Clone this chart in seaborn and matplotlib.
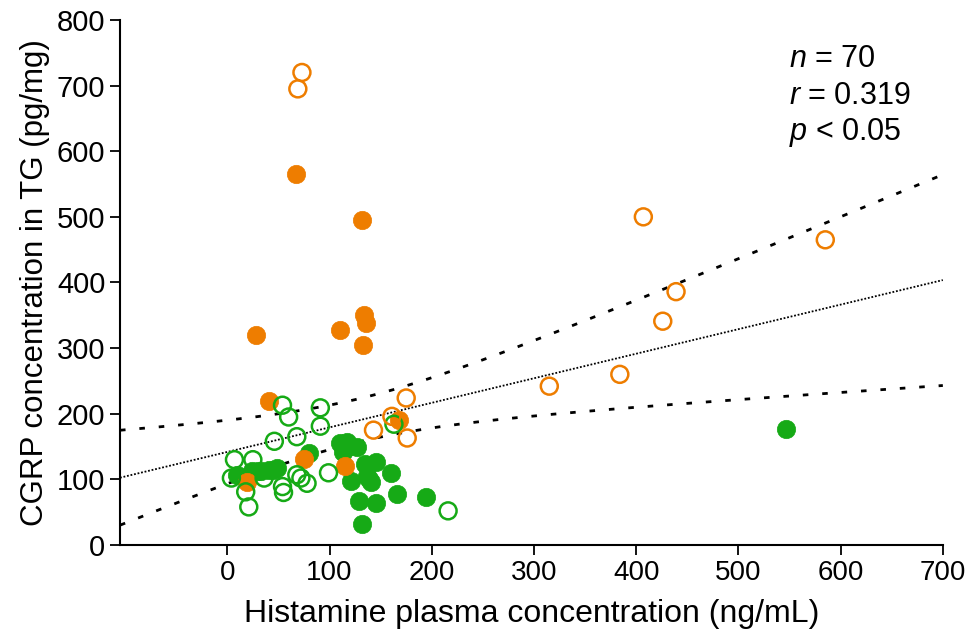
import matplotlib
matplotlib.use("Agg")
import matplotlib.pyplot as plt
from matplotlib import font_manager
import numpy as np
import pandas as pd
import seaborn as sns

# values
orange_filled_x = [67, 132, 28, 110, 134, 136, 133, 41, 168, 75, 115, 19]
orange_filled_y = [565, 495, 320, 328, 350, 338, 305, 220, 190, 131, 121, 96]

orange_open_x = [73, 69, 407, 585, 439, 426, 384, 315, 175, 143, 176, 161]
orange_open_y = [720, 695, 500, 465, 386, 341, 260, 242, 224, 175, 163, 196]

green_open_x = [54, 60, 91, 91, 46, 68, 7, 25, 4, 18, 21, 36, 54, 55, 68, 72, 78, 99, 163, 216]
green_open_y = [213, 195, 209, 181, 158, 165, 130, 130, 102, 81, 58, 102, 89, 80, 107, 102, 94, 110, 184, 52]

green_filled_x = [9, 24, 33, 41, 49, 80, 110, 117, 113, 127, 121, 135, 145, 137, 141, 160,
                  129, 145, 166, 194, 132, 547, 30, 45, 118, 139]
green_filled_y = [107, 113, 113, 114, 117, 140, 155, 157, 142, 149, 98, 123, 126, 105, 96, 110,
                  67, 64, 78, 73, 32, 177, 112, 115, 150, 100]

stats_lines = [r"$\mathit{n}$ = 70", r"$\mathit{r}$ = 0.319", r"$\mathit{p}$ < 0.05"]

x_ticks = [0, 100, 200, 300, 400, 500, 600, 700]
y_ticks = [0, 100, 200, 300, 400, 500, 600, 700, 800]

ORANGE = "#EE7D00"
GREEN = "#16AA16"


def build_frame() -> pd.DataFrame:
    parts = [
        pd.DataFrame({"x": green_filled_x, "y": green_filled_y, "group": "green_filled"}),
        pd.DataFrame({"x": green_open_x, "y": green_open_y, "group": "green_open"}),
        pd.DataFrame({"x": orange_filled_x, "y": orange_filled_y, "group": "orange_filled"}),
        pd.DataFrame({"x": orange_open_x, "y": orange_open_y, "group": "orange_open"}),
    ]
    return pd.concat(parts, ignore_index=True)


def main() -> None:
    sns.set_theme(style="ticks")
    plt.rcParams["font.family"] = ["Liberation Sans", "DejaVu Sans"]
    plt.rcParams["mathtext.fontset"] = "custom"
    plt.rcParams["mathtext.rm"] = "Liberation Sans"
    plt.rcParams["mathtext.it"] = "Liberation Sans:italic"

    # the x-axis text in the reference looks condensed
    names = {f.name for f in font_manager.fontManager.ttflist}
    if "Liberation Sans Narrow" in names:
        x_font, x_tick_size, x_label_size = "Liberation Sans Narrow", 24, 25
    else:
        x_font, x_tick_size, x_label_size = "Liberation Sans", 20, 23

    df = build_frame()

    fig = plt.figure(figsize=(9.7, 6.38), dpi=100)
    ax = fig.add_axes([0.1237, 0.1458, 0.972 - 0.1237, 0.9687 - 0.1458])

    xlim = (-105, 700)

    # linear fit with 95% confidence band
    x = df["x"].to_numpy(float)
    y = df["y"].to_numpy(float)
    n = len(x)
    slope, intercept = np.polyfit(x, y, 1)
    resid = y - (slope * x + intercept)
    s = np.sqrt(np.sum(resid ** 2) / (n - 2))
    sxx = np.sum((x - x.mean()) ** 2)
    xs = np.linspace(xlim[0], xlim[1], 200)
    fit = slope * xs + intercept
    half = 1.995 * s * np.sqrt(1 / n + (xs - x.mean()) ** 2 / sxx)

    ax.plot(xs, fit, color="black", lw=1.3, ls=(0, (1, 1)), zorder=1)
    ax.plot(xs, fit + half, color="black", lw=2, ls=(0, (2, 5)), zorder=1)
    ax.plot(xs, fit - half, color="black", lw=2, ls=(0, (2, 5)), zorder=1)

    size = 175
    for grp, color, filled in [
        ("green_filled", GREEN, True),
        ("orange_filled", ORANGE, True),
        ("green_open", GREEN, False),
        ("orange_open", ORANGE, False),
    ]:
        sub = df[df["group"] == grp]
        if filled:
            sns.scatterplot(data=sub, x="x", y="y", ax=ax, s=size, color=color,
                            edgecolor=color, linewidth=0.5, zorder=3, legend=False)
        else:
            sns.scatterplot(data=sub, x="x", y="y", ax=ax, s=size * 0.85, facecolor="none",
                            edgecolor=color, linewidth=1.8, zorder=4, legend=False)

    ax.set_xlim(*xlim)
    ax.set_ylim(0, 800)
    ax.set_xticks(x_ticks)
    ax.set_yticks(y_ticks)
    ax.tick_params(axis="both", length=7, width=1.3, color="black",
                   labelcolor="black", direction="out")
    ax.tick_params(axis="y", labelsize=21)
    ax.tick_params(axis="x", labelsize=x_tick_size)
    for lab in ax.get_xticklabels():
        lab.set_family(x_font)
    sns.despine(ax=ax)
    for side in ["left", "bottom"]:
        ax.spines[side].set_color("black")
        ax.spines[side].set_linewidth(1.5)

    ax.set_xlabel("Histamine plasma concentration (ng/mL)", fontsize=x_label_size,
                  family=x_font, color="black", labelpad=10)
    ax.set_ylabel("CGRP concentration in TG (pg/mg)", fontsize=22.5, color="black", labelpad=5)

    for i, line in enumerate(stats_lines):
        ax.text(0.813, 0.925 - i * 0.07, line, transform=ax.transAxes, fontsize=22,
                color="black", va="center", ha="left")

    fig.savefig("out.png", dpi=100)
    plt.close(fig)


if __name__ == "__main__":
    main()
